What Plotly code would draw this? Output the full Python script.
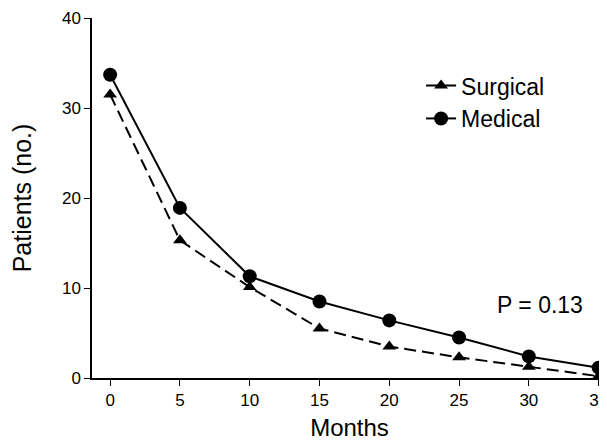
import plotly.graph_objects as go

months = [0, 5, 10, 15, 20, 25, 30, 35]
surgical = [31.5, 15.3, 10.1, 5.5, 3.5, 2.3, 1.25, 0.2]
medical = [33.7, 18.9, 11.3, 8.5, 6.4, 4.5, 2.4, 1.15]
x_ticks = [0, 5, 10, 15, 20, 25, 30, 35]
y_ticks = [0, 10, 20, 30, 40]

FONT = "Liberation Sans, Arial, Helvetica, sans-serif"

fig = go.Figure()
fig.add_trace(go.Scatter(
    x=months, y=surgical, name="Surgical", mode="lines+markers",
    line=dict(color="black", width=2, dash="12px,6px"),
    marker=dict(symbol="triangle-up", size=12, color="black"),
    cliponaxis=False,
))
fig.add_trace(go.Scatter(
    x=months, y=medical, name="Medical", mode="lines+markers",
    line=dict(color="black", width=2),
    marker=dict(symbol="circle", size=14, color="black"),
    cliponaxis=False,
))

fig.add_annotation(x=30.8, y=8.1, xref="x", yref="y", text="P = 0.13",
                   showarrow=False, font=dict(size=23, color="black", family=FONT))

fig.update_layout(
    width=599, height=433,
    margin=dict(l=84, r=0, t=10, b=63),
    paper_bgcolor="white", plot_bgcolor="white",
    font=dict(family=FONT, color="black"),
    showlegend=True,
    legend=dict(x=0.639, y=0.872, xanchor="left", yanchor="top",
                font=dict(size=23, color="black", family=FONT),
                bgcolor="rgba(0,0,0,0)", tracegroupgap=0),
    xaxis=dict(
        range=[-1.3, 35.6], tickvals=x_ticks, ticktext=[str(v) for v in x_ticks],
        showgrid=False, zeroline=False, showline=True, linecolor="black", linewidth=1.5,
        ticks="outside", ticklen=6, tickcolor="black", tickwidth=1,
        tickfont=dict(size=17, color="black"), ticklabeloverflow="allow",
        title=dict(text="Months", font=dict(size=24, color="black"), standoff=11),
    ),
    yaxis=dict(
        range=[0, 40], tickvals=y_ticks, ticktext=[str(v) for v in y_ticks],
        showgrid=False, zeroline=False, showline=True, linecolor="black", linewidth=1.5,
        ticks="outside", ticklen=6, tickcolor="black", tickwidth=1,
        tickfont=dict(size=17, color="black"),
        title=dict(text="Patients (no.)", font=dict(size=25, color="black"), standoff=25),
    ),
)

fig.write_html("out.html")
